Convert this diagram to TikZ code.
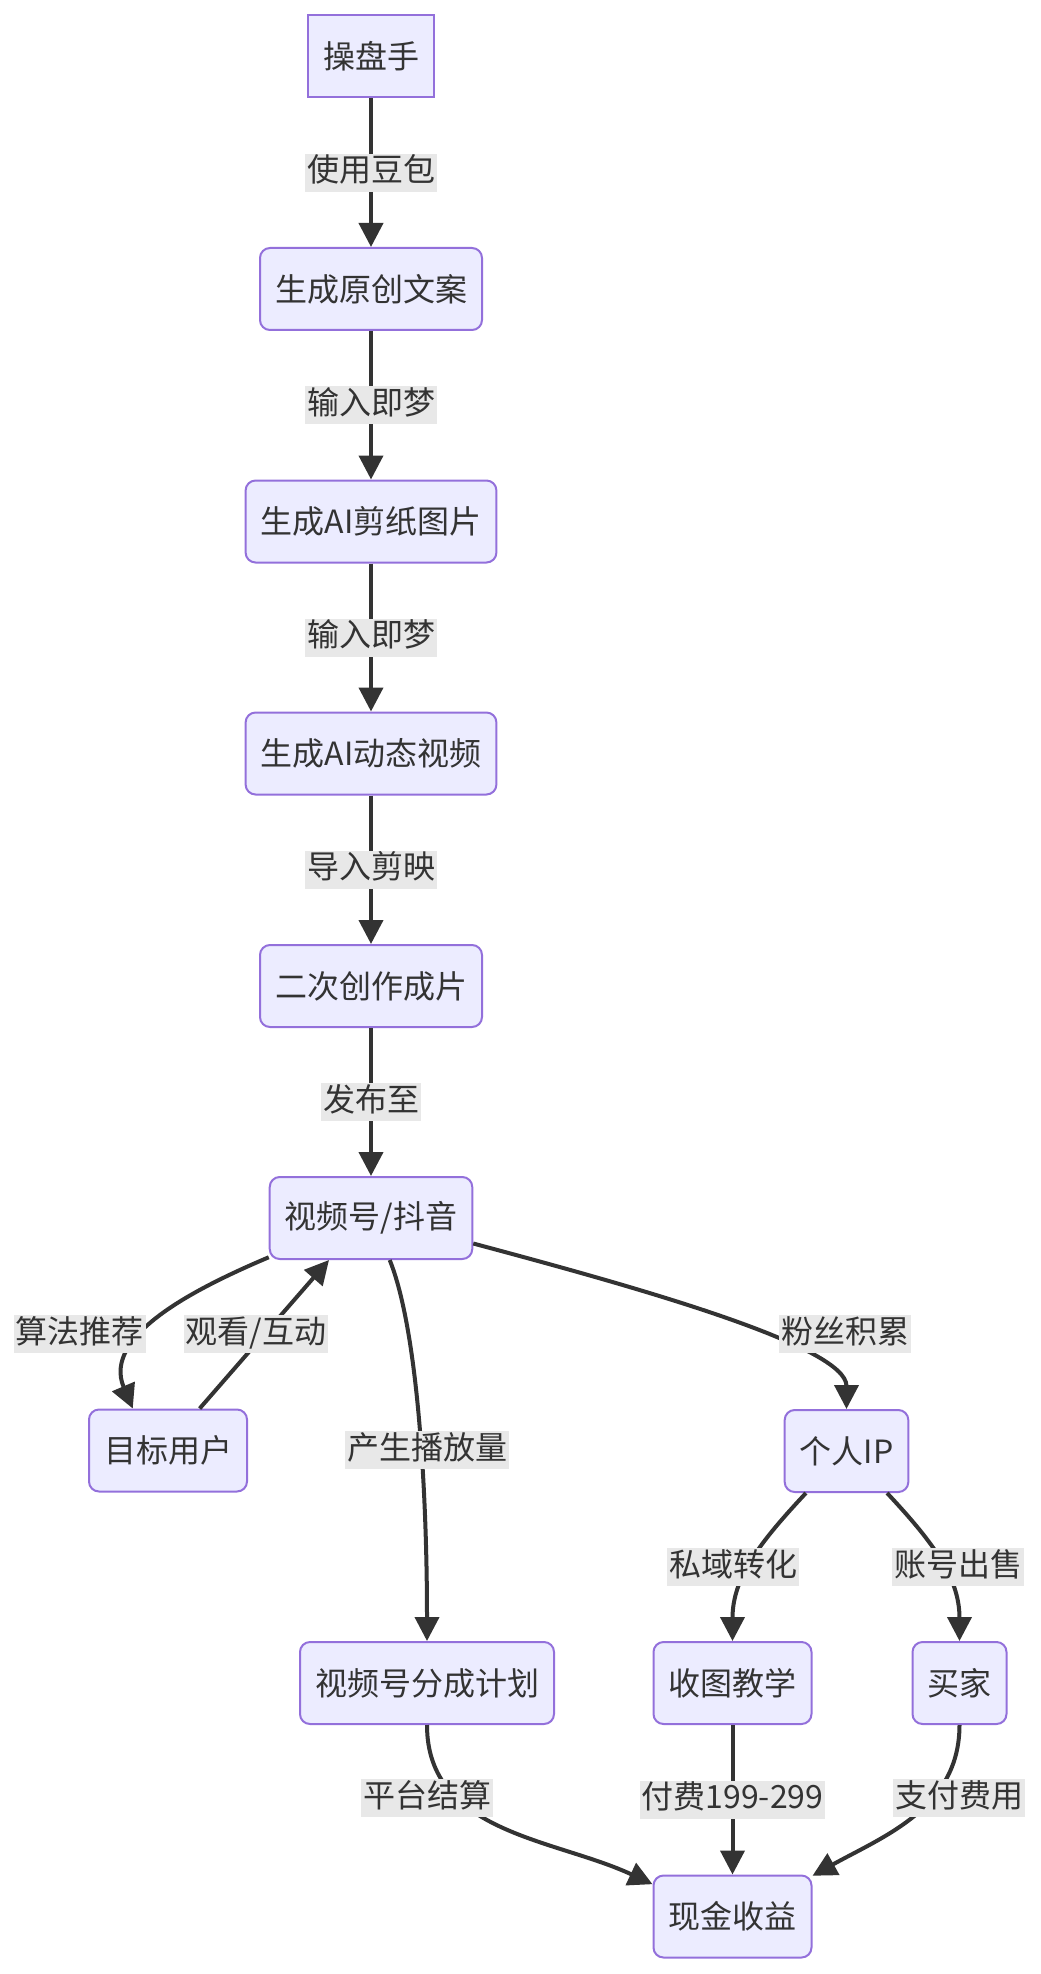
\documentclass[tikz,border=0pt]{standalone}
\usepackage{fontspec}
\setmainfont{Noto Sans CJK SC}
\usepackage{tikz}
\usetikzlibrary{arrows.meta}
\definecolor{boxfill}{RGB}{236,236,255}
\definecolor{boxline}{RGB}{147,112,219}
\definecolor{ink}{RGB}{51,51,51}
\definecolor{lblbg}{RGB}{232,232,232}

\begin{document}
\begin{tikzpicture}[
    x=0.5pt, y=-0.5pt,
    stepnode/.style={draw=boxline,fill=boxfill,line width=1pt,rounded corners=5pt,
      minimum height=41pt,inner xsep=7.5pt,text=ink,font=\fontsize{16}{19}\selectfont},
    startnode/.style={stepnode,sharp corners},
    arrow/.style={-{Triangle[length=12pt,width=12pt]},line width=2pt,draw=ink},
    elbl/.style={fill=lblbg,text=ink,font=\fontsize{16}{19}\selectfont,
      inner xsep=1pt,inner ysep=1.5pt,text height=12.5pt,text depth=3.5pt}
  ]
  \useasboundingbox (0,0) rectangle (1040,1974);

  % production chain
  \node[startnode] (op) at (371,56.5) {操盘手};
  \node[stepnode] (copy) at (371,289) {生成原创文案};
  \node[stepnode] (cutimg) at (371,521.5) {生成AI剪纸图片};
  \node[stepnode] (animvid) at (371,753.5) {生成AI动态视频};
  \node[stepnode] (film) at (371,986) {二次创作成片};
  \node[stepnode] (platform) at (371,1218) {视频号/抖音};
  \foreach \a/\b/\t in {op/copy/使用豆包, copy/cutimg/输入即梦, cutimg/animvid/输入即梦,
      animvid/film/导入剪映, film/platform/发布至} {
    \draw[arrow] (\a) -- node[elbl] {\t} (\b); }

  % distribution
  \node[stepnode] (users) at (168,1450.5) {目标用户};
  \node[stepnode] (ip) at (846.5,1451) {个人IP};
  \node[stepnode] (share) at (427,1683) {视频号分成计划};
  \node[stepnode] (teach) at (732.5,1683) {收图教学};
  \node[stepnode] (buyer) at (959.5,1683) {买家};
  \node[stepnode] (cash) at (732.5,1916.5) {现金收益};

  \draw[arrow] (platform.201) to[out=203,in=113] (users.130)
    node[elbl] at (80,1334) {算法推荐};
  \draw[arrow] (users.53) -- (platform.225)
    node[elbl] at (256,1334) {观看/互动};
  \draw[arrow] (platform.294) to[out=-68,in=90,out looseness=0.5] (share.north)
    node[elbl] at (427,1450) {产生播放量};
  \draw[arrow] (platform.346) to[out=-15,in=90,in looseness=0.4] (ip.north)
    node[elbl] at (845,1334) {粉丝积累};
  \draw[arrow] (ip.226) to[out=-133,in=90] (teach.north)
    node[elbl] at (733,1567) {私域转化};
  \draw[arrow] (ip.314) to[out=-47,in=90] (buyer.north)
    node[elbl] at (958,1567) {账号出售};

  % payout
  \draw[arrow] (share.south) to[out=-90,in=155] (cash.158)
    node[elbl] at (427,1798) {平台结算};
  \draw[arrow] (teach) -- node[elbl] {付费199-299} (cash);
  \draw[arrow] (buyer.south) to[out=-90,in=29] (cash.27)
    node[elbl] at (959,1798) {支付费用};
\end{tikzpicture}
\end{document}
